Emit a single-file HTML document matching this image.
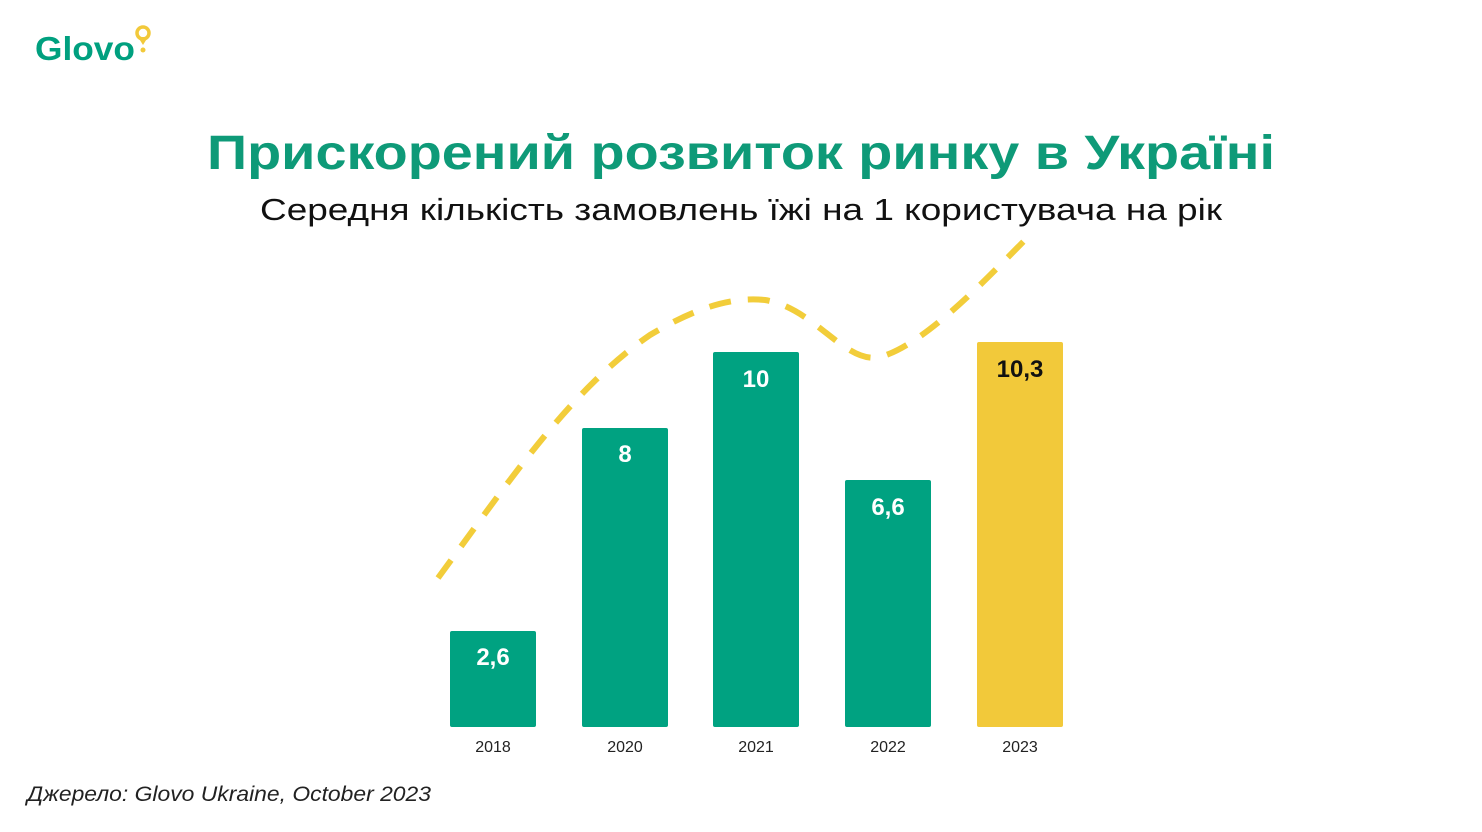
<!DOCTYPE html>
<html><head><meta charset="utf-8"><style>
html,body{margin:0;padding:0;background:#fff;}
svg{display:block;}
text{font-family:"Liberation Sans",sans-serif;}
</style></head><body>
<svg width="1482" height="832" viewBox="0 0 1482 832">
<text x="35" y="60" font-size="33" fill="#00a07f" font-weight="bold" textLength="100" lengthAdjust="spacingAndGlyphs">Glovo</text>
<circle cx="143" cy="33" r="6" fill="none" stroke="#f2c93a" stroke-width="3.5"/>
<path d="M138 37 L143 45 L148 37" fill="#f2c93a"/>
<circle cx="143" cy="50" r="2.5" fill="#f2c93a"/>
<text x="741" y="169" text-anchor="middle" font-size="48" font-weight="bold" fill="#0e9a78" textLength="1068" lengthAdjust="spacingAndGlyphs">Прискорений розвиток ринку в Україні</text>
<text x="741" y="220" text-anchor="middle" font-size="31" fill="#111" textLength="962" lengthAdjust="spacingAndGlyphs">Середня кількість замовлень їжі на 1 користувача на рік</text>
<path d="M438 578 C510 480 570 390 650 335 C700 305 735 297 765 300 C815 308 845 365 880 357 C925 345 990 275 1025 240" fill="none" stroke="#f2cd3a" stroke-width="6" stroke-dasharray="22 17"/>
<g fill="#00a281">
<rect x="450" y="631" width="86" height="96" rx="2"/>
<rect x="582" y="428" width="86" height="299" rx="2"/>
<rect x="713" y="352" width="86" height="375" rx="2"/>
<rect x="845" y="480" width="86" height="247" rx="2"/>
</g>
<rect x="977" y="342" width="86" height="385" rx="2" fill="#f2c93a"/>
<g font-size="24" font-weight="bold" text-anchor="middle" fill="#fff">
<text x="493" y="665">2,6</text>
<text x="625" y="462">8</text>
<text x="756" y="387">10</text>
<text x="888" y="515">6,6</text>
<text x="1020" y="377" fill="#111">10,3</text>
</g>
<g font-size="16" text-anchor="middle" fill="#222">
<text x="493" y="752">2018</text>
<text x="625" y="752">2020</text>
<text x="756" y="752">2021</text>
<text x="888" y="752">2022</text>
<text x="1020" y="752">2023</text>
</g>
<text x="27" y="801" font-size="21" font-style="italic" fill="#222" textLength="404" lengthAdjust="spacingAndGlyphs">Джерело: Glovo Ukraine, October 2023</text>
</svg>
</body></html>
